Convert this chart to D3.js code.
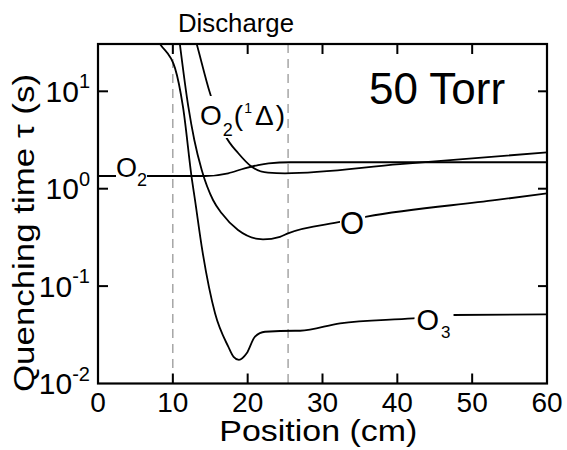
<!DOCTYPE html>
<html><head><meta charset="utf-8">
<script src="https://cdn.jsdelivr.net/npm/d3@7"></script>
<style>
body{margin:0;background:#fff}
svg{display:block}
text{font-family:"Liberation Sans",Arial,Helvetica,sans-serif;fill:#000}
</style>
</head><body>
<svg id="c" width="567" height="450"></svg>
<script>
// ---------- data ----------
const xTickValues = [0, 10, 20, 30, 40, 50, 60];
const yTickExponents = [-2, -1, 0, 1];
const dischargeEdges = [10, 25.4];

const seriesNames = ["O2", "O2(1Δ)", "O", "O3"];

const o2X = [0, 13.6, 14.3, 17.4, 19.6, 21.4, 22.8, 25.7, 60];
const o2Y = [1.35, 1.35, 1.35, 1.44, 1.62, 1.75, 1.82, 1.87, 1.87];

const o2DeltaX = [12.86, 13.19, 14.97, 16.97, 18.75, 20.54, 22.72, 24.99, 40.36, 60];
const o2DeltaY = [37.8, 30.6, 9.53, 3.56, 2.31, 1.68, 1.46, 1.44, 1.79, 2.36];

const oX = [10.79, 12.07, 12.87, 13.86, 15.37, 16.53, 18.71, 21.38, 22.05, 24.32, 25.39, 32.57, 35.91, 53.28, 60];
const oY = [37.8, 6.95, 3.16, 1.556, 0.766, 0.559, 0.377, 0.305, 0.302, 0.321, 0.348, 0.458, 0.516, 0.766, 0.897];

const o3X = [7.62, 8.29, 10.29, 11.36, 12.56, 12.96, 13.86, 15.64, 17.41, 18.12, 18.84, 19.87, 20.98, 22.32, 26.33, 27.0, 32.34, 42.1, 47.44, 60];
const o3Y = [37, 30.6, 17.3, 6.90, 1.23, 0.766, 0.254, 0.0526, 0.0239, 0.0188, 0.0175, 0.0204, 0.0303, 0.034, 0.0348, 0.0348, 0.0415, 0.0467, 0.0505, 0.0513];

// ---------- setup ----------
const svg = d3.select("#c");
const L = 98, R = 547, T = 44, B = 383.5;
const x = d3.scaleLinear().domain([0, 60]).range([L, R]);
const y = d3.scaleLog().domain([0.01, 30.6]).range([B, T]);

svg.append("rect").attr("width", 567).attr("height", 450).attr("fill", "#fff");

svg.append("defs").append("clipPath").attr("id", "plot")
  .append("rect").attr("x", L).attr("y", T).attr("width", R - L).attr("height", B - T);

// discharge boundaries
svg.append("g").selectAll("line").data(dischargeEdges).join("line")
  .attr("x1", d => x(d)).attr("x2", d => x(d))
  .attr("y1", T).attr("y2", B)
  .attr("stroke", "#8f8f8f").attr("stroke-width", 1.2)
  .attr("stroke-dasharray", "9,6");

// curves
const line = d3.line().x(d => x(d[0])).y(d => y(d[1])).curve(d3.curveMonotoneX);
const series = [
  d3.zip(o2X, o2Y),
  d3.zip(o2DeltaX, o2DeltaY),
  d3.zip(oX, oY),
  d3.zip(o3X, o3Y)
];
svg.append("g").attr("clip-path", "url(#plot)")
  .selectAll("path").data(series).join("path")
  .attr("d", line).attr("fill", "none")
  .attr("stroke", "#000").attr("stroke-width", 1.8)
  .attr("stroke-linejoin", "round");

// inline labels with white backing
const labelsG = svg.append("g");
function addLabel(parts, x0, y0, fs, pad) {
  const g = labelsG.append("g");
  const rect = g.append("rect").attr("fill", "#fff");
  const t = g.append("text").attr("x", x0).attr("y", y0).attr("font-size", fs);
  parts.forEach(p => {
    t.append("tspan").attr("font-size", p.fs || fs)
      .attr("dy", p.dy || 0).attr("dx", p.dx || 0).text(p.t);
  });
  const b = t.node().getBBox();
  rect.attr("x", b.x - pad[0]).attr("y", b.y - pad[1])
    .attr("width", b.width + pad[0] + pad[2]).attr("height", b.height + pad[1] + pad[3]);
}
// O2
addLabel([{t: "O"}, {t: "2", fs: 18, dy: 9}], 116, 176.5, 27, [0, 0, 0, 0]);
// O2(1Δ)
addLabel([{t: "O"}, {t: "2", fs: 18, dy: 11, dx: 1}, {t: "(", dy: -11, dx: 1}, {t: "1", fs: 14, dy: -12, dx: 1},
          {t: "Δ", dy: 12, dx: 3}, {t: ")", dx: 2}],
  200, 125, 28, [0, 4, 0, -2]);
// O
addLabel([{t: "O"}], 340, 233.5, 31, [0, 0, 1, 0]);
// O3
addLabel([{t: "O"}, {t: "3", fs: 17, dy: 8, dx: 2}], 416.5, 330, 29, [2, 0, 3, 0]);

// frame
svg.append("rect").attr("x", L).attr("y", T).attr("width", R - L).attr("height", B - T)
  .attr("fill", "none").attr("stroke", "#000").attr("stroke-width", 2.2);

// x ticks (bottom & top, inward)
const innerX = xTickValues.filter(v => v > 0 && v < 60);
svg.append("g").selectAll("line").data(innerX).join("line")
  .attr("x1", d => x(d)).attr("x2", d => x(d)).attr("y1", B).attr("y2", B - 10)
  .attr("stroke", "#000").attr("stroke-width", 2);
svg.append("g").selectAll("line").data(innerX).join("line")
  .attr("x1", d => x(d)).attr("x2", d => x(d)).attr("y1", T).attr("y2", T + 10)
  .attr("stroke", "#000").attr("stroke-width", 2);
svg.append("g").selectAll("text").data(xTickValues).join("text")
  .attr("x", d => x(d)).attr("y", B + 28.5).attr("text-anchor", "middle")
  .attr("font-size", 28).text(d => d);

// y ticks (left & right, inward)
const innerY = yTickExponents.filter(e => e > -2);
svg.append("g").selectAll("line").data(innerY).join("line")
  .attr("x1", L).attr("x2", L + 10).attr("y1", e => y(Math.pow(10, e))).attr("y2", e => y(Math.pow(10, e)))
  .attr("stroke", "#000").attr("stroke-width", 2);
svg.append("g").selectAll("line").data(innerY).join("line")
  .attr("x1", R).attr("x2", R - 9).attr("y1", e => y(Math.pow(10, e))).attr("y2", e => y(Math.pow(10, e)))
  .attr("stroke", "#000").attr("stroke-width", 2);
const yl = svg.append("g").selectAll("text").data(yTickExponents).join("text")
  .attr("x", 90).attr("y", e => y(Math.pow(10, e)) + 10.5)
  .attr("text-anchor", "end").attr("font-size", 30);
yl.append("tspan").text("10");
yl.append("tspan").attr("font-size", 20).attr("dy", -13.4).text(e => String(e));

// titles
svg.append("text").attr("x", 178).attr("y", 31.7).attr("font-size", 25)
  .attr("textLength", 116).attr("lengthAdjust", "spacingAndGlyphs").text("Discharge");
svg.append("text").attr("x", 369).attr("y", 103.5).attr("font-size", 44).text("50 Torr");
svg.append("text").attr("x", 318.3).attr("y", 441).attr("text-anchor", "middle").attr("font-size", 30)
  .attr("textLength", 198).attr("lengthAdjust", "spacingAndGlyphs").text("Position (cm)");
svg.append("text").attr("transform", "translate(34,233) rotate(-90)")
  .attr("text-anchor", "middle").attr("font-size", 30)
  .attr("textLength", 318).attr("lengthAdjust", "spacingAndGlyphs").text("Quenching time τ (s)");
</script>
</body></html>
